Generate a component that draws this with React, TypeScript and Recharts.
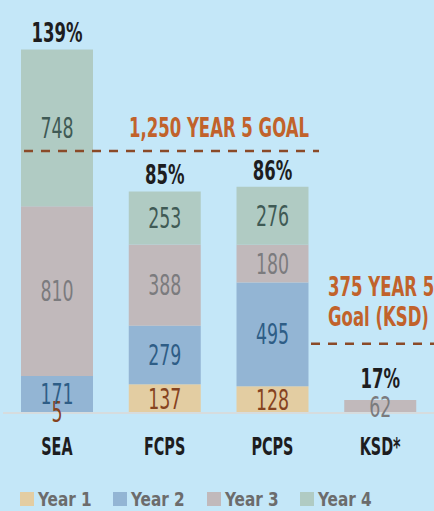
import { BarChart, Bar, XAxis, YAxis, LabelList, ReferenceLine, Legend } from "recharts";

const categories = ["SEA", "FCPS", "PCPS", "KSD*"];
const year1 = [5, 137, 128, 0];
const year2 = [171, 279, 495, 0];
const year3 = [810, 388, 180, 62];
const year4 = [748, 253, 276, 0];
const pctOfGoal = ["139%", "85%", "86%", "17%"];

const seaGoal = 1250;
// the source draws the KSD goal line a bit below 375, keep it where it sits
const ksdGoalLine = 330;

const data = categories.map((name, i) => ({
  name,
  y1: year1[i],
  y2: year2[i],
  y3: year3[i],
  y4: year4[i],
  pct: pctOfGoal[i],
}));

const series = [
  { key: "y1", name: "Year 1", fill: "#e3cda2", text: "#86431f" },
  { key: "y2", name: "Year 2", fill: "#93b5d4", text: "#2e5d86" },
  { key: "y3", name: "Year 3", fill: "#c1b9bb", text: "#7b7b7e" },
  { key: "y4", name: "Year 4", fill: "#b0cbc3", text: "#3f5a55" },
];

// which series is the top visible segment of each stack
const topKey = data.map((d: any) => {
  let k = "";
  series.forEach((s) => {
    if (d[s.key] > 0) k = s.key;
  });
  return k;
});

const FONT = "'DejaVu Sans Condensed', 'DejaVu Sans', sans-serif";
const SX = 0.68;

function Cond({ x, y, sx = SX, anchor = "middle", children, ...rest }: any) {
  return (
    <text
      transform={`translate(${x},${y}) scale(${sx},1)`}
      textAnchor={anchor}
      fontFamily={FONT}
      {...rest}
    >
      {children}
    </text>
  );
}

const segLabel = (key: string, color: string) => (props: any) => {
  const { x, y, width, height, value, index } = props;
  if (!value) return null;
  const cx = Number(x) + Number(width) / 2;
  const cy = Number(y) + Number(height) / 2;
  // keep the percent clear of a value label that sticks out of a thin bar
  const pctY = Math.min(Number(y) - 7, cy - 19);
  return (
    <g>
      <Cond x={cx} y={cy + 10} sx={0.69} fill={color} fontSize={28}>
        {value}
      </Cond>
      {topKey[index] === key && (
        <Cond x={cx} y={pctY} fill="#1d1d1f" fontSize={27} fontWeight="bold">
          {pctOfGoal[index]}
        </Cond>
      )}
    </g>
  );
};

const CatTick = ({ x, y, payload }: any) => (
  <Cond x={x} y={y + 42} fill="#1d1d1f" fontSize={25} fontWeight="bold" sx={0.64}>
    {payload.value}
  </Cond>
);

const goalStroke = { stroke: "#8a4a28", strokeWidth: 2.5, strokeDasharray: "9 8" };
const goalText = { fill: "#c1622b", fontSize: 27, fontWeight: "bold" };

const seaGoalShape = (p: any) => (
  <g>
    <line x1={24} x2={319} y1={p.y1} y2={p.y1} {...goalStroke} />
    <Cond x={309} y={p.y1 - 14} anchor="end" {...goalText}>
      1,250 YEAR 5 GOAL
    </Cond>
  </g>
);

const ksdGoalShape = (p: any) => (
  <g>
    <line x1={311} x2={434} y1={p.y1} y2={p.y1} {...goalStroke} />
    <Cond x={328} y={p.y1 - 48} anchor="start" {...goalText}>
      375 YEAR 5
    </Cond>
    <Cond x={328} y={p.y1 - 18} anchor="start" {...goalText}>
      Goal (KSD)
    </Cond>
  </g>
);

const LegendBox = () => (
  <div style={{ position: "relative", height: 22, fontFamily: FONT }}>
    {series.map((s, i) => (
      <div
        key={s.key}
        style={{
          position: "absolute",
          left: 20 + i * 93.3,
          top: 0,
          display: "flex",
          alignItems: "center",
          height: 22,
        }}
      >
        <span style={{ width: 14, height: 14, background: s.fill, display: "inline-block" }} />
        <span
          style={{
            marginLeft: 4,
            color: "#6c6c6c",
            fontWeight: "bold",
            fontSize: 20,
            display: "inline-block",
            transform: "scaleX(0.85)",
            transformOrigin: "left center",
            whiteSpace: "nowrap",
          }}
        >
          {s.name}
        </span>
      </div>
    ))}
  </div>
);

export default function App() {
  return (
    <div
      style={{
        position: "absolute",
        left: 0,
        top: 0,
        width: 434,
        height: 511,
        background: "#c4e7f8",
        overflow: "hidden",
      }}
    >
      <BarChart
        width={434}
        height={511}
        data={data}
        margin={{ top: 0, right: 0, left: 3, bottom: 58 }}
        barSize={72}
      >
        <XAxis
          dataKey="name"
          height={40}
          tickLine={false}
          tickSize={0}
          tickMargin={0}
          axisLine={{ stroke: "#d6dcde", strokeWidth: 2 }}
          tick={<CatTick />}
          interval={0}
        />
        <YAxis hide domain={[0, 1970]} />
        {series.map((s) => (
          <Bar key={s.key} dataKey={s.key} name={s.name} stackId="a" fill={s.fill} isAnimationActive={false}>
            <LabelList dataKey={s.key} content={segLabel(s.key, s.text)} />
          </Bar>
        ))}
        <ReferenceLine y={seaGoal} shape={seaGoalShape} ifOverflow="visible" />
        <ReferenceLine y={ksdGoalLine} shape={ksdGoalShape} ifOverflow="visible" />
        <Legend
          verticalAlign="middle"
          align="center"
          layout="horizontal"
          wrapperStyle={{ top: 488, left: 0, width: 434 }}
          content={<LegendBox />}
        />
      </BarChart>
    </div>
  );
}
